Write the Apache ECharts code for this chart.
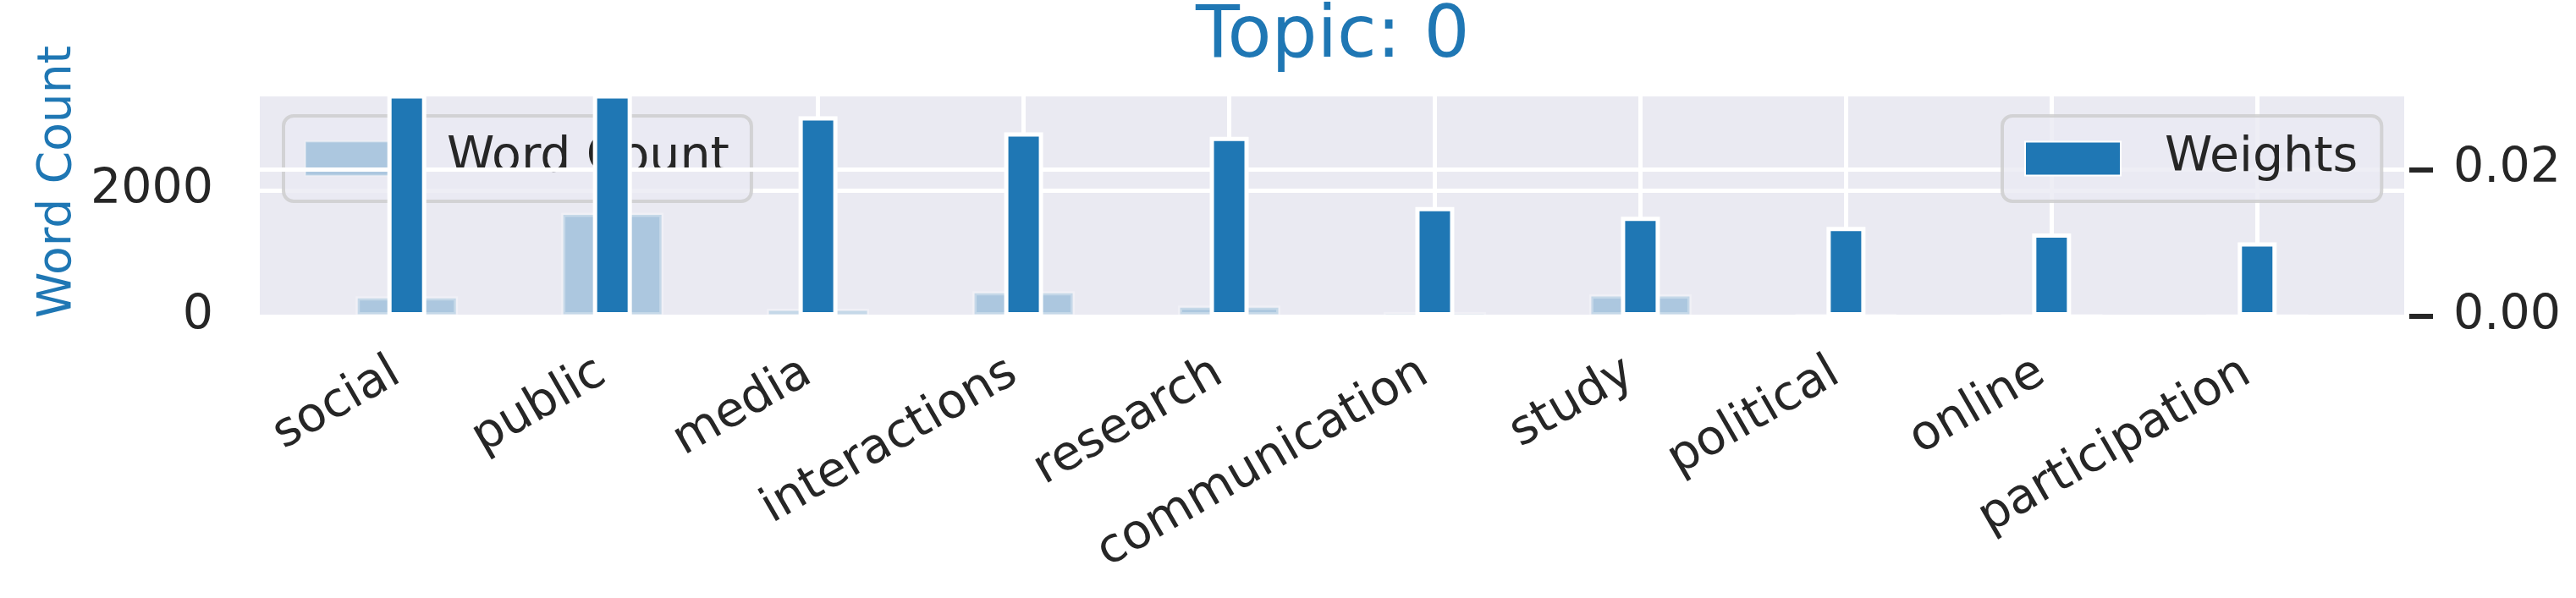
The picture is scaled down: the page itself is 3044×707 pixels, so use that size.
<!DOCTYPE html>
<html>
<head>
<meta charset="utf-8">
<title>Topic: 0</title>
<script src="https://cdn.jsdelivr.net/npm/echarts@6/dist/echarts.min.js"></script>
<style>
  html, body { margin: 0; padding: 0; background: #fff; }
  #chart { width: 3044px; height: 707px; }
</style>
</head>
<body>
<div id="chart"></div>
<script>
// topic 0 keywords: word count (left axis) and weight (right axis)
const keywords = ['social', 'public', 'media', 'interactions', 'research', 'communication', 'study', 'political', 'online', 'participation'];
const wordCount = [320, 1650, 120, 400, 170, 70, 350, 20, 12, 10];
const weights = [0.0312, 0.0306, 0.0273, 0.0251, 0.0245, 0.0149, 0.0136, 0.0122, 0.0113, 0.0101];
const countTicks = [0, 2000];
const weightTicks = [0, 0.02];
const positions = keywords.map((k, i) => i);

const blue = '#1f77b4';
const ink = '#262626';
const font = 'DejaVu Sans';

const chart = echarts.init(document.getElementById('chart'));

chart.setOption({
  animation: false,
  backgroundColor: '#fff',
  textStyle: { fontFamily: font },
  title: {
    text: 'Topic: 0',
    left: 1413,
    top: 2,
    padding: 0,
    textStyle: { color: blue, fontSize: 85, fontWeight: 'normal', fontFamily: font }
  },
  grid: {
    left: 307,
    right: 203,
    top: 114,
    bottom: 333,
    show: true,
    backgroundColor: '#eaeaf2',
    borderWidth: 0,
    outerBoundsMode: 'none',
    containLabel: false
  },
  legend: [{
    data: ['Word Count'],
    left: 335,
    top: 137,
    z: 3,
    selectedMode: false,
    icon: 'rect',
    itemWidth: 113,
    itemHeight: 40,
    padding: [22, 26, 22, 25],
    backgroundColor: 'rgba(234,234,242,0.8)',
    borderColor: 'rgba(204,204,204,0.8)',
    borderWidth: 4,
    borderRadius: 12,
    textStyle: { fontSize: 57, color: ink, fontFamily: font, padding: [0, 0, 0, 49] }
  }, {
    data: ['Weights'],
    left: 2366,
    top: 137,
    z: 8,
    selectedMode: false,
    icon: 'rect',
    itemWidth: 113,
    itemHeight: 40,
    padding: [22, 28, 22, 26],
    backgroundColor: 'rgba(234,234,242,0.8)',
    borderColor: 'rgba(204,204,204,0.8)',
    borderWidth: 4,
    borderRadius: 12,
    textStyle: { fontSize: 57, color: ink, fontFamily: font, padding: [0, 0, 0, 47] }
  }],
  xAxis: [{
    type: 'value',
    min: -0.715,
    max: 9.715,
    axisLine: { show: false, onZero: false },
    axisTick: { show: false, customValues: positions },
    axisLabel: {
      customValues: positions,
      formatter: v => keywords[Math.round(v)],
      rotate: 30,
      margin: 56,
      padding: [0, 14, 0, 0],
      fontSize: 57,
      color: ink,
      fontFamily: font
    },
    splitLine: { show: true, lineStyle: { color: '#fff', width: 5 } }
  }, {
    type: 'value',
    min: -0.715,
    max: 9.715,
    show: false,
    axisLine: { onZero: false }
  }],
  yAxis: [{
    type: 'value',
    position: 'left',
    min: 0,
    max: 3500,
    name: 'Word Count',
    nameLocation: 'middle',
    nameRotate: 90,
    nameGap: 208,
    nameTextStyle: { color: blue, fontSize: 55, fontFamily: font, padding: [0, 0, 0, 58] },
    axisLine: { show: false, onZero: false },
    axisTick: { show: false, customValues: countTicks },
    axisLabel: {
      customValues: countTicks,
      formatter: v => String(v),
      margin: 55,
      fontSize: 57,
      color: ink,
      fontFamily: font
    },
    splitLine: { show: true, lineStyle: { color: '#fff', width: 5 } }
  }, {
    type: 'value',
    position: 'right',
    offset: 6,
    z: 5,
    min: 0,
    max: 0.03,
    axisLine: { show: false, onZero: false },
    axisTick: { show: true, customValues: weightTicks, length: 28, lineStyle: { color: ink, width: 6 } },
    axisLabel: {
      customValues: weightTicks,
      formatter: v => v.toFixed(2),
      margin: 52,
      fontSize: 57,
      color: ink,
      fontFamily: font
    },
    splitLine: { show: true, lineStyle: { color: '#fff', width: 5 } }
  }],
  series: [{
    name: 'Word Count',
    type: 'bar',
    xAxisIndex: 0,
    yAxisIndex: 0,
    z: 2,
    barWidth: 121,
    data: wordCount.map((v, i) => [positions[i], v]),
    itemStyle: { color: 'rgba(31,119,180,0.3)', borderColor: 'rgba(255,255,255,0.3)', borderWidth: 5 },
    emphasis: { disabled: true }
  }, {
    name: 'Weights',
    type: 'bar',
    xAxisIndex: 1,
    yAxisIndex: 1,
    z: 6,
    barWidth: 46,
    data: weights.map((v, i) => [positions[i], v]),
    itemStyle: { color: blue, borderColor: '#fff', borderWidth: 5 },
    emphasis: { disabled: true }
  }]
});
</script>
</body>
</html>
